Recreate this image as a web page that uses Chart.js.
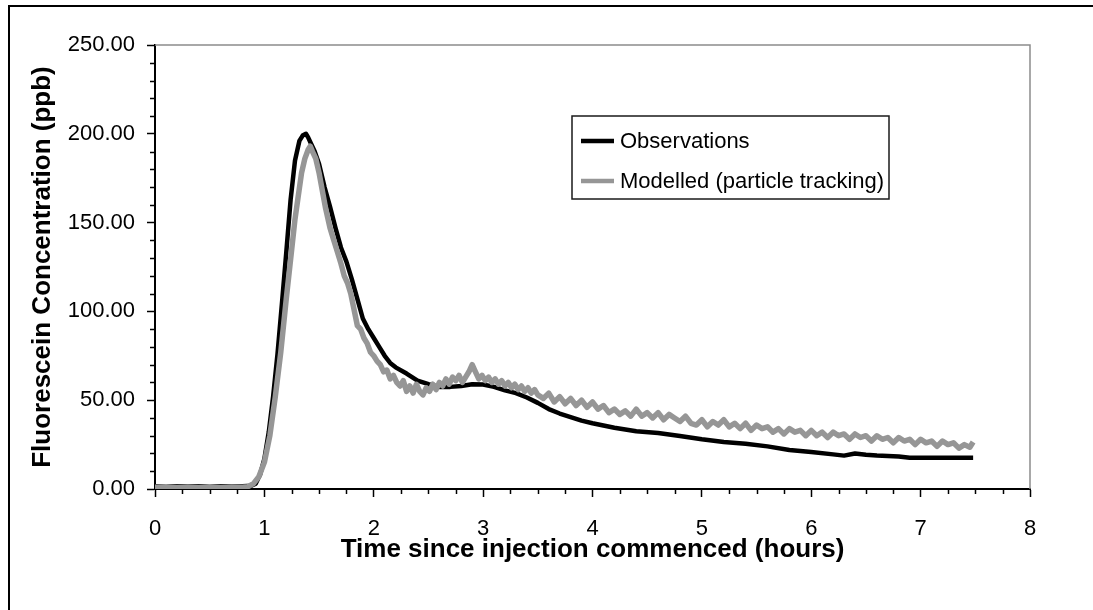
<!DOCTYPE html>
<html>
<head>
<meta charset="utf-8">
<title>Fluorescein breakthrough</title>
<script src="https://cdn.jsdelivr.net/npm/chart.js@4.4.1/dist/chart.umd.min.js"></script>
<style>
  html, body { margin: 0; padding: 0; background: #fff; overflow: hidden; }
  #frame { position: absolute; left: 8px; top: 5px; width: 1200px; height: 700px;
           border-left: 2px solid #000; border-top: 2px solid #000; }
  #chart { position: absolute; left: 0; top: 0; }
</style>
</head>
<body>
<div id="frame"></div>
<canvas id="chart" width="1093" height="610"></canvas>
<script>
// ---- data (time in hours, concentration in ppb) ----
const obsTime = [0, 0.2, 0.4, 0.6, 0.8, 0.88, 0.92, 0.96, 1.00, 1.04, 1.08, 1.12, 1.16, 1.20, 1.24, 1.28,
  1.32, 1.35, 1.38, 1.40, 1.43, 1.46, 1.50, 1.55, 1.60, 1.65, 1.70, 1.75, 1.80, 1.85, 1.90, 1.95,
  2.00, 2.05, 2.10, 2.15, 2.20, 2.30, 2.40, 2.50, 2.60, 2.70, 2.80, 2.90, 3.00, 3.10, 3.20, 3.30,
  3.40, 3.50, 3.60, 3.70, 3.80, 3.90, 4.00, 4.20, 4.40, 4.60, 4.80, 5.00, 5.20, 5.40, 5.60, 5.80,
  6.00, 6.20, 6.30, 6.40, 6.50, 6.60, 6.80, 6.90, 7.20, 7.48];
const obsConc = [1.5, 1.5, 1.5, 1.5, 1.5, 1.8, 3, 8, 17, 32, 52, 76, 104, 133, 163, 185,
  196, 199, 200, 198, 194, 190, 183, 170, 159, 147, 136, 128, 118, 107, 96, 90,
  85, 80, 75, 71, 68.5, 65, 61, 59, 57.5, 57.5, 58, 59, 58.8, 57.5, 55.5, 54,
  51.5, 48.5, 45, 42.5, 40.5, 38.5, 37, 34.5, 32.5, 31.5, 29.8, 28, 26.5, 25.5, 24, 22,
  20.8, 19.5, 18.8, 20, 19.3, 18.8, 18.3, 17.6, 17.6, 17.6];

const modTime = [0, 0.1, 0.2, 0.3, 0.4, 0.5, 0.6, 0.7, 0.8, 0.85,
  0.90, 0.95, 1.00, 1.05, 1.10, 1.15, 1.20, 1.25, 1.28, 1.31, 1.34, 1.37, 1.40, 1.42, 1.44, 1.47,
  1.50, 1.53, 1.56, 1.60, 1.63, 1.66, 1.70, 1.73, 1.76, 1.79, 1.82, 1.85, 1.88, 1.91, 1.94, 1.97,
  2.00, 2.03, 2.06, 2.09, 2.12, 2.15, 2.18, 2.21, 2.24, 2.27, 2.30, 2.33, 2.36, 2.39, 2.42, 2.45,
  2.48, 2.51, 2.54, 2.57, 2.60, 2.63, 2.66, 2.69, 2.72, 2.75, 2.78, 2.81, 2.84, 2.87, 2.90, 2.93,
  2.96, 2.99, 3.02, 3.05, 3.08, 3.11, 3.14, 3.17, 3.20, 3.23, 3.26, 3.29, 3.32, 3.35, 3.38, 3.41,
  3.44, 3.47, 3.50, 3.55, 3.60, 3.65, 3.70, 3.75, 3.80, 3.85, 3.90, 3.95, 4.00, 4.05, 4.10, 4.15,
  4.20, 4.25, 4.30, 4.35, 4.40, 4.45, 4.50, 4.55, 4.60, 4.65, 4.70, 4.75, 4.80, 4.85, 4.90, 4.95,
  5.00, 5.05, 5.10, 5.15, 5.20, 5.25, 5.30, 5.35, 5.40, 5.45, 5.50, 5.55, 5.60, 5.65, 5.70, 5.75,
  5.80, 5.85, 5.90, 5.95, 6.00, 6.05, 6.10, 6.15, 6.20, 6.25, 6.30, 6.35, 6.40, 6.45, 6.50, 6.55,
  6.60, 6.65, 6.70, 6.75, 6.80, 6.85, 6.90, 6.95, 7.00, 7.05, 7.10, 7.15, 7.20, 7.25, 7.30, 7.35,
  7.40, 7.45, 7.48];
const modConc = [1.0, 1.2, 0.8, 1.1, 0.9, 1.2, 0.9, 1.1, 1.0, 1.3,
  3, 7, 15, 30, 52, 77, 107, 135, 152, 165, 178, 186, 191, 193, 190, 186,
  178, 168, 158, 147, 141, 135, 127, 120, 116, 110, 101, 92, 90, 85, 82, 77,
  75, 72, 70, 66, 67, 62, 64, 60, 58, 61, 55, 58, 54, 59, 55, 53,
  57, 55, 59, 56, 60, 58, 62, 59, 63, 61, 64, 60, 63, 66, 70, 66,
  62, 64, 61, 63, 60, 62, 59, 61, 58, 60, 57, 59, 56, 58, 55, 57,
  54, 56, 53, 51, 54, 49, 52, 48, 51, 47, 50, 46, 49, 45, 47, 43,
  45, 42, 44, 41, 45, 41, 43, 40, 43, 39, 42, 40, 38, 41, 37, 36,
  39, 35, 38, 36, 39, 35, 37, 34, 37, 33, 36, 34, 35, 32, 34, 31,
  34, 32, 33, 30, 33, 30, 32, 29, 32, 30, 31, 28, 31, 29, 30, 27,
  30, 28, 29, 26, 29, 27, 28, 25, 28, 26, 27, 24, 27, 25, 26, 23,
  25, 23.5, 26.5];

const xTicks = [0, 1, 2, 3, 4, 5, 6, 7, 8];
const yTicks = [0, 50, 100, 150, 200, 250];
const seriesNames = ['Observations', 'Modelled (particle tracking)'];
const seriesColors = ['#000000', '#969696'];

const FONT = '"Liberation Sans", Arial, sans-serif';

function toPoints(xs, ys) {
  return xs.map((x, i) => ({ x: x, y: ys[i] }));
}

// minor ticks, gray top/right frame, boxed legend
const extrasPlugin = {
  id: 'extras',
  afterDraw(chart) {
    const { ctx, chartArea } = chart;
    const xs = chart.scales.x, ys = chart.scales.y;
    ctx.save();

    // gray plot frame on top and right
    ctx.strokeStyle = '#8c8c8c';
    ctx.lineWidth = 1.5;
    ctx.beginPath();
    ctx.moveTo(chartArea.left, chartArea.top);
    ctx.lineTo(chartArea.right, chartArea.top);
    ctx.lineTo(chartArea.right, chartArea.bottom);
    ctx.stroke();

    // minor ticks
    ctx.strokeStyle = '#000';
    ctx.lineWidth = 1.5;
    ctx.beginPath();
    for (let v = 10; v < 250; v += 10) {
      if (v % 50 === 0) continue;
      const py = Math.round(ys.getPixelForValue(v)) + 0.5;
      ctx.moveTo(chartArea.left - 5, py);
      ctx.lineTo(chartArea.left, py);
    }
    for (let q = 1; q < 32; q++) {
      if (q % 4 === 0) continue;
      const px = Math.round(xs.getPixelForValue(q / 4)) + 0.5;
      ctx.moveTo(px, chartArea.bottom);
      ctx.lineTo(px, chartArea.bottom + 5);
    }
    ctx.stroke();

    // legend box
    const bx = 572, by = 116, bw = 317, bh = 83;
    ctx.fillStyle = '#fff';
    ctx.fillRect(bx, by, bw, bh);
    ctx.strokeStyle = '#1a1a1a';
    ctx.lineWidth = 1.5;
    ctx.strokeRect(bx, by, bw, bh);
    ctx.font = '22px ' + FONT;
    ctx.textBaseline = 'middle';
    const rows = [141, 181];
    seriesNames.forEach((name, i) => {
      ctx.strokeStyle = seriesColors[i];
      ctx.lineWidth = 4.5;
      ctx.beginPath();
      ctx.moveTo(581, rows[i]);
      ctx.lineTo(614, rows[i]);
      ctx.stroke();
      ctx.fillStyle = '#000';
      ctx.fillText(name, 620, rows[i] + 1);
    });
    ctx.restore();
  }
};

new Chart(document.getElementById('chart'), {
  type: 'line',
  data: {
    datasets: [
      // modelled first so it is drawn on top of the observations
      {
        label: seriesNames[1],
        data: toPoints(modTime, modConc),
        borderColor: seriesColors[1],
        borderWidth: 5.5,
        pointRadius: 0,
        tension: 0,
        borderJoinStyle: 'round',
      },
      {
        label: seriesNames[0],
        data: toPoints(obsTime, obsConc),
        borderColor: seriesColors[0],
        borderWidth: 4.5,
        pointRadius: 0,
        tension: 0,
        borderJoinStyle: 'round',
      },
    ],
  },
  options: {
    responsive: false,
    animation: false,
    devicePixelRatio: 1,
    layout: { padding: { top: 45, right: 63, left: 0, bottom: 0 } },
    plugins: { legend: { display: false }, tooltip: { enabled: false } },
    scales: {
      x: {
        type: 'linear',
        min: 0,
        max: 8,
        afterFit: (s) => { s.height = 121; },
        afterBuildTicks: (s) => { s.ticks = xTicks.map(v => ({ value: v })); },
        grid: { drawOnChartArea: false, tickLength: 8, tickColor: '#000', tickWidth: 1.5 },
        border: { color: '#000', width: 2 },
        ticks: { color: '#000', font: { family: FONT, size: 22 }, padding: 19, maxRotation: 0,
          callback: (v) => String(v) },
        title: { display: true, text: 'Time since injection commenced (hours)', color: '#000',
          font: { family: FONT, size: 26, weight: 'bold' }, padding: { bottom: 45 } },
      },
      y: {
        type: 'linear',
        min: 0,
        max: 250,
        afterFit: (s) => { s.width = 155; },
        afterBuildTicks: (s) => { s.ticks = yTicks.map(v => ({ value: v })); },
        grid: { drawOnChartArea: false, tickLength: 8, tickColor: '#000', tickWidth: 1.5 },
        border: { color: '#000', width: 2 },
        ticks: { color: '#000', font: { family: FONT, size: 22 }, padding: 12,
          callback: (v) => Number(v).toFixed(2) },
        title: { display: true, text: 'Fluorescein Concentration (ppb)', color: '#000',
          font: { family: FONT, size: 26, weight: 'bold' }, padding: { top: 27 } },
      },
    },
  },
  plugins: [extrasPlugin],
});
</script>
</body>
</html>
